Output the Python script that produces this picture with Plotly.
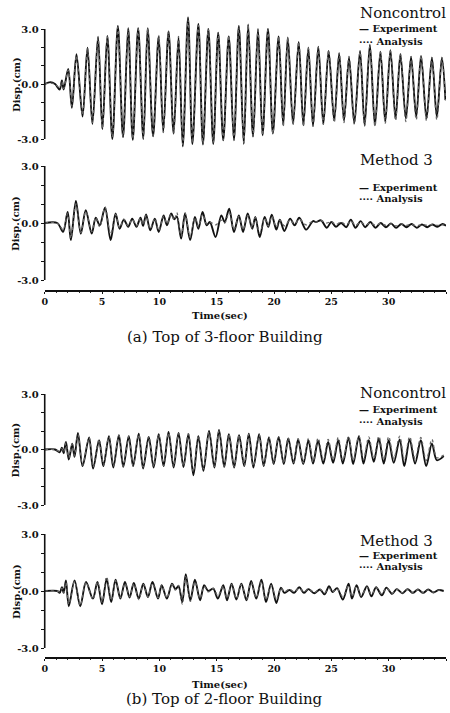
import plotly.graph_objects as go

# ---------------- data ----------------
# Panel (a) Noncontrol, top of 3-floor building
t_a_nc = [0, 0.5, 0.9, 1.3, 1.5, 1.65, 2.05, 2.37, 2.77, 3.3, 3.73, 4.16, 4.65, 5.03, 5.46, 5.9,
          6.38, 6.83, 7.28, 7.68, 8.15, 8.6, 8.98, 9.45, 9.94, 10.34, 10.8, 11.24, 11.67, 12.04,
          12.5, 12.88, 13.4, 13.8, 14.27, 14.7, 15.13, 15.57, 16.05, 16.5, 16.93, 17.36, 17.74,
          18.17, 18.6, 19.0, 19.47, 19.9, 20.4, 20.8, 21.2, 21.66, 22.15, 22.56, 22.99, 23.4,
          23.86, 24.3, 24.76, 25.25, 25.68, 26.1, 26.54, 27.0, 27.5, 27.9, 28.36, 28.8, 29.28,
          29.7, 30.15, 30.6, 31.02, 31.5, 31.95, 32.4, 32.82, 33.3, 33.77, 34.2, 34.64, 34.95]
exp_a_nc = [0, 0.1, 0.0, -0.3, 0.2, -0.3, 0.82, -1.3, 1.62, -1.78, 1.98, -2.18, 2.58, -2.47, 2.62, -3.0,
            3.16, -2.9, 3.04, -3.05, 3.04, -3.0, 3.04, -2.85, 2.6, -2.6, 2.87, -2.7, 2.54, -3.4,
            3.63, -3.27, 3.27, -3.3, 3.0, -3.27, 2.8, -3.07, 2.6, -3.07, 3.16, -3.27, 3.25,
            -2.87, 3.0, -2.8, 3.0, -2.7, 2.6, -2.25, 2.54, -2.18, 2.3, -2.25, 1.98, -2.3,
            2.03, -2.18, 1.8, -2.0, 1.66, -2.0, 1.44, -2.14, 1.8, -2.25, 2.14, -2.25, 1.76,
            -2.07, 1.85, -1.89, 1.62, -1.89, 1.47, -1.8, 1.53, -1.89, 1.44, -1.8, 1.44, -0.87]
ana_a_nc = [0, 0.05, 0.0, -0.2, 0.15, -0.25, 0.75, -1.2, 1.55, -1.7, 1.95, -2.1, 2.5, -2.45, 2.6, -2.9,
            3.1, -2.85, 3.0, -3.0, 3.0, -2.95, 3.0, -2.8, 2.65, -2.65, 2.85, -2.7, 2.6, -3.3,
            3.5, -3.2, 3.2, -3.25, 3.0, -3.2, 2.8, -3.05, 2.65, -3.05, 3.1, -3.2, 3.2,
            -2.85, 2.95, -2.8, 2.95, -2.7, 2.6, -2.3, 2.5, -2.2, 2.3, -2.3, 2.0, -2.3,
            2.0, -2.2, 1.85, -2.1, 1.7, -2.1, 1.5, -2.2, 1.75, -2.3, 2.05, -2.3, 1.75,
            -2.15, 1.8, -2.0, 1.65, -2.05, 1.5, -1.95, 1.55, -2.0, 1.45, -1.95, 1.45, -0.9]

# Panel (a) Method 3, top of 3-floor building
t_a_m3 = [0, 1.1, 1.6, 2.0, 2.28, 2.72, 3.15, 3.58, 4.1, 4.45, 4.8, 5.26, 5.75, 6.18, 6.53, 6.9,
          7.28, 7.63, 8.0, 8.35, 8.58, 8.84, 9.2, 9.6, 9.94, 10.37, 10.66, 11.03, 11.3, 11.52,
          11.9, 12.24, 12.68, 13.1, 13.4, 13.77, 14.12, 14.4, 14.9, 15.4, 15.7, 16.09, 16.5,
          16.93, 17.3, 17.7, 18.1, 18.37, 18.75, 19.18, 19.5, 19.8, 20.2, 20.5, 20.9, 21.4,
          21.8, 22.2, 22.8, 23.4, 23.65, 24.1, 24.6, 25.0, 25.4, 25.85, 26.3, 26.7, 27.1,
          27.55, 27.95, 28.4, 28.85, 29.3, 29.75, 30.2, 30.65, 31.1, 31.55, 32.0, 32.45,
          32.9, 33.35, 33.8, 34.25, 34.7, 35.0]
exp_a_m3 = [0, 0, -0.47, 0.58, -0.9, 1.16, -0.56, 0.67, -0.56, 0.28, -0.12, 0.8, -0.9, 0.5, -0.3, 0.18,
            -0.2, 0.23, -0.2, 0.28, -0.15, 0.45, -0.38, 0.23, -0.47, 0.4, -0.12, 0.5, 0.2, 0.35,
            -0.82, 0.5, -0.9, 0.32, -0.3, 0.58, -0.12, 0.05, -0.74, 0.4, 0.05, 0.75, -0.47,
            0.4, -0.47, 0.5, -0.3, 0.32, -0.74, 0.32, -0.2, 0.44, -0.35, 0.18, -0.42, 0.23,
            -0.12, 0.28, -0.35, 0.1, 0.05, 0.14, -0.25, 0.05, -0.2, 0.0, -0.22, 0.18, -0.25,
            0.1, -0.22, 0.05, -0.25, 0.0, -0.22, -0.02, -0.25, -0.05, -0.22, -0.05, -0.25,
            -0.08, -0.22, -0.08, -0.2, -0.05, -0.15]
ana_a_m3 = [0, 0, -0.35, 0.5, -0.8, 1.0, -0.5, 0.6, -0.45, 0.3, -0.2, 0.85, -0.6, 0.45, -0.25, 0.2,
            -0.15, 0.2, -0.15, 0.25, -0.1, 0.4, -0.3, 0.25, -0.4, 0.35, -0.05, 0.45, 0.15, 0.55,
            -0.7, 0.55, -0.75, 0.3, -0.2, 0.45, -0.05, 0.05, -0.1, 0.15, 0.0, 0.55, -0.35,
            0.35, -0.35, 0.4, -0.25, 0.3, -0.55, 0.25, -0.15, 0.35, -0.2, 0.15, -0.15, 0.15,
            -0.05, 0.2, -0.1, 0.1, 0.05, 0.12, 0.0, 0.08, -0.08, 0.05, -0.1, 0.1, -0.12,
            0.05, -0.1, 0.0, -0.12, -0.02, -0.12, -0.05, -0.15, -0.05, -0.12, -0.08, -0.15,
            -0.08, -0.12, -0.08, -0.12, -0.1, -0.12]

# Panel (b) Noncontrol, top of 2-floor building
t_b_nc = [0, 0.9, 1.3, 1.5, 1.65, 1.85, 2.1, 2.4, 2.6, 2.9, 3.3, 3.87, 4.22, 4.74, 5.11, 5.6, 5.98,
          6.47, 6.85, 7.33, 7.71, 8.2, 8.58, 9.07, 9.5, 9.94, 10.37, 10.8, 11.24, 11.67, 12.1,
          12.53, 12.97, 13.4, 13.84, 14.33, 14.8, 15.2, 15.66, 16.06, 16.52, 16.95, 17.4, 17.8,
          18.2, 18.7, 19.1, 19.55, 19.97, 20.4, 20.85, 21.24, 21.7, 22.1, 22.55, 23.0, 23.4,
          23.84, 24.3, 24.72, 25.15, 25.6, 26.0, 26.5, 26.9, 27.4, 27.8, 28.26, 28.7, 29.14,
          29.57, 30.0, 30.44, 30.96, 31.36, 31.83, 32.3, 32.8, 33.27, 33.77, 34.2, 34.8]
exp_b_nc = [0, 0, -0.15, 0.1, -0.2, 0.41, -0.54, 0.32, -0.4, 0.9, -0.9, 0.65, -1.03, 0.5, -0.9, 0.72, -0.97,
            0.77, -0.94, 0.72, -0.9, 0.86, -1.03, 0.68, -0.97, 0.83, -0.9, 0.95, -0.97, 0.9, -0.94,
            0.83, -1.39, 0.72, -1.15, 1.0, -0.97, 1.05, -0.94, 0.83, -0.97, 0.77, -0.9, 0.86,
            -0.97, 0.83, -0.9, 0.65, -0.79, 0.68, -0.79, 0.6, -0.76, 0.54, -0.79, 0.5, -0.76,
            0.47, -0.76, 0.41, -0.72, 0.5, -0.76, 0.65, -0.79, 0.72, -0.76, 0.5, -0.67, 0.6,
            -0.76, 0.5, -0.72, 0.54, -0.9, 0.54, -0.76, 0.5, -0.9, 0.32, -0.58, -0.36]
ana_b_nc = [0, 0, -0.1, 0.05, -0.15, 0.35, -0.45, 0.3, -0.35, 0.8, -0.85, 0.65, -0.95, 0.55, -0.85, 0.7, -0.9,
            0.75, -0.9, 0.72, -0.88, 0.82, -0.95, 0.7, -0.92, 0.8, -0.88, 0.9, -0.92, 0.88, -0.9,
            0.85, -1.2, 0.75, -1.05, 0.95, -0.92, 1.0, -0.9, 0.85, -0.92, 0.8, -0.88, 0.82,
            -0.9, 0.8, -0.85, 0.68, -0.75, 0.7, -0.75, 0.62, -0.7, 0.58, -0.72, 0.6, -0.68,
            0.62, -0.6, 0.55, -0.55, 0.65, -0.6, 0.7, -0.6, 0.75, -0.55, 0.68, -0.5, 0.72,
            -0.55, 0.7, -0.5, 0.72, -0.6, 0.7, -0.5, 0.65, -0.6, 0.55, -0.45, -0.3]

# Panel (b) Method 3, top of 2-floor building
t_b_m3 = [0, 1.1, 1.3, 1.5, 1.65, 1.85, 2.1, 2.6, 3.1, 3.6, 4.2, 4.6, 5.0, 5.4, 5.8, 6.18, 6.6,
          7.0, 7.4, 7.77, 8.2, 8.6, 9.0, 9.4, 9.88, 10.2, 10.66, 11.1, 11.4, 11.67, 12.0, 12.3,
          12.7, 13.1, 13.55, 13.9, 14.27, 14.7, 15.1, 15.57, 15.9, 16.3, 16.72, 17.15, 17.6,
          18.0, 18.45, 18.9, 19.3, 19.75, 20.2, 20.6, 20.9, 21.35, 21.75, 22.2, 22.6, 23.0,
          23.5, 24.0, 24.4, 24.8, 25.1, 25.5, 26.0, 26.5, 26.8, 27.2, 27.6, 28.1, 28.5, 28.9,
          29.4, 29.8, 30.3, 30.7, 31.2, 31.65, 32.1, 32.55, 33.0, 33.45, 33.9, 34.35, 34.8]
exp_b_m3 = [0, 0, -0.1, 0.2, -0.1, 0.56, -0.8, 0.56, -0.8, 0.47, -0.4, 0.47, -0.7, 0.65, -0.58, 0.6, -0.4,
            0.47, -0.35, 0.42, -0.4, 0.39, -0.32, 0.47, -0.4, 0.3, -0.4, 0.39, 0.1, 0.25, -0.58, 0.88,
            -0.49, 0.6, -0.49, 0.3, 0.0, 0.12, -0.4, 0.3, -0.49, 0.39, -0.45, 0.39, -0.49,
            0.53, -0.4, 0.6, -0.58, 0.39, -0.63, 0.18, -0.1, 0.05, -0.1, 0.2, -0.1, 0.1,
            -0.12, 0.08, -0.18, 0.25, -0.05, 0.15, -0.45, 0.39, -0.4, 0.3, -0.32, 0.25, -0.28, 0.2,
            -0.23, 0.18, -0.15, 0.1, -0.12, 0.1, -0.1, 0.08, -0.1, 0.08, -0.08, 0.05, 0.0]
ana_b_m3 = [0, 0, -0.05, 0.15, -0.1, 0.45, -0.7, 0.5, -0.75, 0.45, -0.45, 0.5, -0.6, 0.75, -0.5, 0.55, -0.35,
            0.42, -0.3, 0.4, -0.45, 0.35, -0.3, 0.4, -0.35, 0.3, -0.35, 0.35, 0.05, 0.3, -0.7, 0.75,
            -0.55, 0.5, -0.4, 0.25, -0.05, 0.15, -0.25, 0.25, -0.4, 0.35, -0.4, 0.35, -0.45,
            0.45, -0.35, 0.5, -0.45, 0.3, -0.45, 0.15, -0.05, 0.1, -0.05, 0.15, -0.05, 0.12,
            -0.08, 0.1, -0.1, 0.15, -0.05, 0.12, -0.3, 0.3, -0.3, 0.25, -0.25, 0.2, -0.2, 0.18,
            -0.15, 0.15, -0.12, 0.1, -0.1, 0.08, -0.08, 0.08, -0.08, 0.06, -0.06, 0.05, 0.0]

y_ticks = [-3, -2, -1, 0, 1, 2, 3]
y_ticktext = ["-3.0", "", "", "0.0", "", "", "3.0"]
x_ticks = [0, 5, 10, 15, 20, 25, 30, 35]
panel_titles = ["Noncontrol", "Method 3", "Noncontrol", "Method 3"]
captions = ["(a) Top of 3-floor Building", "(b) Top of 2-floor Building"]

# ---------------- layout geometry (pixels in 450x713) ----------------
W, H = 450, 713
def py(p):
    return 1 - p / H

x_dom = [42 / W, 446 / W]
YPAD = 0.9  # extra data units beyond +-3 so peaks are not clipped
# (top px of +3.0, bottom px of -3.0, x-axis px or None)
panels = [(29, 139, None), (166, 280, 291), (394, 505, None), (534, 648, 658)]
series = [(t_a_nc, exp_a_nc, ana_a_nc), (t_a_m3, exp_a_m3, ana_a_m3),
          (t_b_nc, exp_b_nc, ana_b_nc), (t_b_m3, exp_b_m3, ana_b_m3)]

serif = "DejaVu Serif"
fig = go.Figure()
layout = dict(width=W, height=H, margin=dict(l=0, r=0, t=0, b=0),
              paper_bgcolor="white", plot_bgcolor="rgba(0,0,0,0)", showlegend=False)
annotations = []
shapes = []

for i, ((top, bot, xpx), (t, e, a)) in enumerate(zip(panels, series)):
    k = "" if i == 0 else str(i + 1)
    xa, ya = "x" + k, "y" + k
    fig.add_trace(go.Scatter(x=t, y=e, xaxis=xa, yaxis=ya, mode="lines",
                             line=dict(color="#111111", width=1.9, shape="spline", smoothing=0.9),
                             hoverinfo="skip"))
    fig.add_trace(go.Scatter(x=t, y=a, xaxis=xa, yaxis=ya, mode="lines",
                             line=dict(color="#666666", width=1.3, dash="dot", shape="spline", smoothing=0.9),
                             hoverinfo="skip"))
    xaxis = dict(domain=x_dom, range=[0, 35], showgrid=False, zeroline=False, fixedrange=True)
    if xpx is None:
        xaxis.update(visible=False, anchor=ya)
    else:
        xaxis.update(anchor="free", position=py(xpx), showline=True, linecolor="#111",
                     linewidth=1.6, ticks="outside", ticklen=2, tickcolor="#111",
                     tickvals=x_ticks, ticktext=[str(v) for v in x_ticks],
                     tickfont=dict(family=serif, size=9.5, color="#111", weight="bold"),
                     minor=dict(dtick=1, ticks="outside", ticklen=1, tickcolor="#333"))
    scale = (bot - top) / 6.0
    dom_top = top - YPAD * scale
    dom_bot = bot + YPAD * scale
    yaxis = dict(domain=[py(dom_bot), py(dom_top)], range=[-3 - YPAD, 3 + YPAD], anchor=xa,
                 showline=False, ticks="outside", ticklen=3, tickcolor="#111",
                 tickvals=y_ticks, ticktext=y_ticktext, showgrid=False, zeroline=False,
                 tickfont=dict(family=serif, size=10, color="#111", weight="bold"), fixedrange=True)
    layout["xaxis" + k] = xaxis
    layout["yaxis" + k] = yaxis
    # y-axis line spanning -3.0 .. 3.0 only
    shapes.append(dict(type="line", xref=xa + " domain", yref=ya, x0=0, x1=0, y0=-3, y1=3,
                       line=dict(color="#111", width=1.6)))

    zero_px = (top + bot) / 2
    annotations.append(dict(text="Disp.(cm)", x=13 / W, y=py(zero_px), xref="paper", yref="paper",
                            textangle=-90, showarrow=False, xanchor="center", yanchor="middle",
                            font=dict(family=serif, size=10, color="#111", weight="bold")))

# panel titles and legend texts
title_px = [13, 160, 393, 541]
exp_px = [28, 187, 409, 555]
ana_px = [41, 199, 421, 566]
for i in range(4):
    annotations.append(dict(text=panel_titles[i], x=357 / W, y=py(title_px[i]), xref="paper", yref="paper",
                            showarrow=False, xanchor="left", yanchor="middle",
                            font=dict(family=serif, size=15, color="#111")))
    annotations.append(dict(text="— Experiment", x=356 / W, y=py(exp_px[i]), xref="paper", yref="paper",
                            showarrow=False, xanchor="left", yanchor="middle",
                            font=dict(family=serif, size=10, color="#111", weight="bold")))
    annotations.append(dict(text="···· Analysis", x=356 / W, y=py(ana_px[i]), xref="paper", yref="paper",
                            showarrow=False, xanchor="left", yanchor="middle",
                            font=dict(family=serif, size=10, color="#111", weight="bold")))

# x titles and captions
for xt_px, cap_px, cap in [(315, 337, captions[0]), (684, 699, captions[1])]:
    annotations.append(dict(text="Time(sec)", x=218 / W, y=py(xt_px), xref="paper", yref="paper",
                            showarrow=False, xanchor="center", yanchor="middle",
                            font=dict(family=serif, size=10, color="#111", weight="bold")))
    annotations.append(dict(text=cap, x=223 / W, y=py(cap_px), xref="paper", yref="paper",
                            showarrow=False, xanchor="center", yanchor="middle",
                            font=dict(family=serif, size=15, color="#111")))

layout["annotations"] = annotations
layout["shapes"] = shapes
fig.update_layout(**layout)
fig.write_html("out.html")
